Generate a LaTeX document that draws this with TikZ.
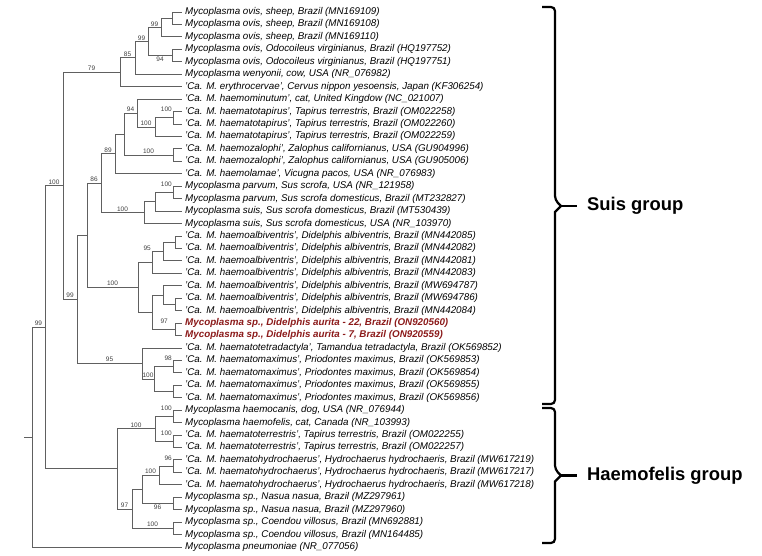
\documentclass[tikz,border=0pt]{standalone}
\usepackage{fontspec}
\setmainfont{Liberation Sans}
\usepackage{tikz}
\usetikzlibrary{decorations.pathreplacing}
\definecolor{treegray}{HTML}{606060}
\definecolor{bootgray}{HTML}{404040}
\definecolor{auritared}{HTML}{8B1A1A}

\begin{document}
\begin{tikzpicture}[x=1pt, y=-1pt,
    branch/.style={draw=treegray, line width=0.8pt},
    leaf/.style={anchor=west, inner sep=0pt, xshift=3pt, font=\fontsize{9.8}{11}\selectfont\itshape},
    newleaf/.style={leaf, font=\fontsize{9.8}{11}\selectfont\itshape\bfseries, text=auritared},
    bs/.style={font=\fontsize{6.5}{7}\selectfont, text=bootgray, inner sep=1pt},
    grp/.style={anchor=west, inner sep=0pt, font=\fontsize{18.4}{20}\selectfont\bfseries},
    bracket/.style={line width=2.2pt, rounded corners=4pt},
    bracetick/.style={line width=2.2pt}
]
    \useasboundingbox (0,0) rectangle (762,556);

    % Leaf tips
    \coordinate (t1) at (182,12.0);
    \coordinate (t2) at (182,24.4);
    \coordinate (t3) at (182,36.9);
    \coordinate (t4) at (182,49.3);
    \coordinate (t5) at (182,61.8);
    \coordinate (t6) at (182,74.2);
    \coordinate (t7) at (182,86.6);
    \coordinate (t8) at (182,99.1);
    \coordinate (t9) at (182,111.5);
    \coordinate (t10) at (182,124.0);
    \coordinate (t11) at (182,136.4);
    \coordinate (t12) at (182,148.8);
    \coordinate (t13) at (182,161.3);
    \coordinate (t14) at (182,173.7);
    \coordinate (t15) at (182,186.2);
    \coordinate (t16) at (182,198.6);
    \coordinate (t17) at (182,211.0);
    \coordinate (t18) at (182,223.5);
    \coordinate (t19) at (182,235.9);
    \coordinate (t20) at (182,248.4);
    \coordinate (t21) at (182,260.8);
    \coordinate (t22) at (182,273.2);
    \coordinate (t23) at (182,285.7);
    \coordinate (t24) at (182,298.1);
    \coordinate (t25) at (182,310.6);
    \coordinate (t26) at (182,323.0);
    \coordinate (t27) at (182,335.4);
    \coordinate (t28) at (182,347.9);
    \coordinate (t29) at (182,360.3);
    \coordinate (t30) at (182,372.8);
    \coordinate (t31) at (182,385.2);
    \coordinate (t32) at (182,397.6);
    \coordinate (t33) at (182,410.1);
    \coordinate (t34) at (182,422.5);
    \coordinate (t35) at (182,435.0);
    \coordinate (t36) at (182,447.4);
    \coordinate (t37) at (182,459.8);
    \coordinate (t38) at (182,472.3);
    \coordinate (t39) at (182,484.7);
    \coordinate (t40) at (182,497.2);
    \coordinate (t41) at (182,509.6);
    \coordinate (t42) at (182,522.0);
    \coordinate (t43) at (182,534.5);
    \coordinate (t44) at (182,546.9);

    % Leaf labels
    \node[leaf] (n1) at (t1) {Mycoplasma ovis, sheep, Brazil (MN169109)};
    \node[leaf] (n2) at (t2) {Mycoplasma ovis, sheep, Brazil (MN169108)};
    \node[leaf] (n3) at (t3) {Mycoplasma ovis, sheep, Brazil (MN169110)};
    \node[leaf] (n4) at (t4) {Mycoplasma ovis, Odocoileus virginianus, Brazil (HQ197752)};
    \node[leaf] (n5) at (t5) {Mycoplasma ovis, Odocoileus virginianus, Brazil (HQ197751)};
    \node[leaf] (n6) at (t6) {Mycoplasma wenyonii, cow, USA (NR\_076982)};
    \node[leaf] (n7) at (t7) {'Ca. M. erythrocervae', Cervus nippon yesoensis, Japan (KF306254)};
    \node[leaf] (n8) at (t8) {'Ca. M. haemominutum', cat, United Kingdow (NC\_021007)};
    \node[leaf] (n9) at (t9) {'Ca. M. haematotapirus', Tapirus terrestris, Brazil (OM022258)};
    \node[leaf] (n10) at (t10) {'Ca. M. haematotapirus', Tapirus terrestris, Brazil (OM022260)};
    \node[leaf] (n11) at (t11) {'Ca. M. haematotapirus', Tapirus terrestris, Brazil (OM022259)};
    \node[leaf] (n12) at (t12) {'Ca. M. haemozalophi', Zalophus californianus, USA (GU904996)};
    \node[leaf] (n13) at (t13) {'Ca. M. haemozalophi', Zalophus californianus, USA (GU905006)};
    \node[leaf] (n14) at (t14) {'Ca. M. haemolamae', Vicugna pacos, USA (NR\_076983)};
    \node[leaf] (n15) at (t15) {Mycoplasma parvum, Sus scrofa, USA (NR\_121958)};
    \node[leaf] (n16) at (t16) {Mycoplasma parvum, Sus scrofa domesticus, Brazil (MT232827)};
    \node[leaf] (n17) at (t17) {Mycoplasma suis, Sus scrofa domesticus, Brazil (MT530439)};
    \node[leaf] (n18) at (t18) {Mycoplasma suis, Sus scrofa domesticus, USA (NR\_103970)};
    \node[leaf] (n19) at (t19) {'Ca. M. haemoalbiventris', Didelphis albiventris, Brazil (MN442085)};
    \node[leaf] (n20) at (t20) {'Ca. M. haemoalbiventris', Didelphis albiventris, Brazil (MN442082)};
    \node[leaf] (n21) at (t21) {'Ca. M. haemoalbiventris', Didelphis albiventris, Brazil (MN442081)};
    \node[leaf] (n22) at (t22) {'Ca. M. haemoalbiventris', Didelphis albiventris, Brazil (MN442083)};
    \node[leaf] (n23) at (t23) {'Ca. M. haemoalbiventris', Didelphis albiventris, Brazil (MW694787)};
    \node[leaf] (n24) at (t24) {'Ca. M. haemoalbiventris', Didelphis albiventris, Brazil (MW694786)};
    \node[leaf] (n25) at (t25) {'Ca. M. haemoalbiventris', Didelphis albiventris, Brazil (MN442084)};
    \node[newleaf] (n26) at (t26) {Mycoplasma sp., Didelphis aurita - 22, Brazil (ON920560)};
    \node[newleaf] (n27) at (t27) {Mycoplasma sp., Didelphis aurita - 7, Brazil (ON920559)};
    \node[leaf] (n28) at (t28) {'Ca. M. haematotetradactyla', Tamandua tetradactyla, Brazil (OK569852)};
    \node[leaf] (n29) at (t29) {'Ca. M. haematomaximus', Priodontes maximus, Brazil (OK569853)};
    \node[leaf] (n30) at (t30) {'Ca. M. haematomaximus', Priodontes maximus, Brazil (OK569854)};
    \node[leaf] (n31) at (t31) {'Ca. M. haematomaximus', Priodontes maximus, Brazil (OK569855)};
    \node[leaf] (n32) at (t32) {'Ca. M. haematomaximus', Priodontes maximus, Brazil (OK569856)};
    \node[leaf] (n33) at (t33) {Mycoplasma haemocanis, dog, USA (NR\_076944)};
    \node[leaf] (n34) at (t34) {Mycoplasma haemofelis, cat, Canada (NR\_103993)};
    \node[leaf] (n35) at (t35) {'Ca. M. haematoterrestris', Tapirus terrestris, Brazil (OM022255)};
    \node[leaf] (n36) at (t36) {'Ca. M. haematoterrestris', Tapirus terrestris, Brazil (OM022257)};
    \node[leaf] (n37) at (t37) {'Ca. M. haematohydrochaerus', Hydrochaerus hydrochaeris, Brazil (MW617219)};
    \node[leaf] (n38) at (t38) {'Ca. M. haematohydrochaerus', Hydrochaerus hydrochaeris, Brazil (MW617217)};
    \node[leaf] (n39) at (t39) {'Ca. M. haematohydrochaerus', Hydrochaerus hydrochaeris, Brazil (MW617218)};
    \node[leaf] (n40) at (t40) {Mycoplasma sp., Nasua nasua, Brazil (MZ297961)};
    \node[leaf] (n41) at (t41) {Mycoplasma sp., Nasua nasua, Brazil (MZ297960)};
    \node[leaf] (n42) at (t42) {Mycoplasma sp., Coendou villosus, Brazil (MN692881)};
    \node[leaf] (n43) at (t43) {Mycoplasma sp., Coendou villosus, Brazil (MN164485)};
    \node[leaf] (n44) at (t44) {Mycoplasma pneumoniae (NR\_077056)};

    % Internal nodes
    \coordinate (ovA) at (172,18.2);
    \coordinate (ovB) at (161,27.6);
    \coordinate (ovD) at (172,55.5);
    \coordinate (ovC) at (148,41.6);
    \coordinate (ovE) at (135,57.9);
    \coordinate (ovF) at (120,72.2);
    \coordinate (tapJ) at (173,117.8);
    \coordinate (tapI) at (155,127.1);
    \coordinate (minH) at (137,113.1);
    \coordinate (zalL) at (173,155.0);
    \coordinate (minK) at (124,134.1);
    \coordinate (lamM) at (115,153.9);
    \coordinate (parP) at (173,192.4);
    \coordinate (parQ) at (155,201.7);
    \coordinate (suiO) at (144,212.6);
    \coordinate (suiN) at (101,183.3);
    \coordinate (albX1) at (175,242.1);
    \coordinate (albX2) at (163,251.5);
    \coordinate (albX) at (152,262.3);
    \coordinate (albY1) at (175,304.3);
    \coordinate (albY2) at (163,295.0);
    \coordinate (auritaY3) at (175,329.2);
    \coordinate (albY) at (152,312.1);
    \coordinate (albW) at (138,287.2);
    \coordinate (suiU) at (87,235.2);
    \coordinate (maxZ1) at (173,366.5);
    \coordinate (maxZ2) at (173,391.4);
    \coordinate (maxZ) at (154,379.0);
    \coordinate (tetV) at (142,363.4);
    \coordinate (suiT) at (77,299.3);
    \coordinate (suiS) at (63,185.8);
    \coordinate (canA1) at (173,416.3);
    \coordinate (terA2) at (173,441.2);
    \coordinate (canA) at (155,428.7);
    \coordinate (hydC1) at (173,466.1);
    \coordinate (hydC) at (159,475.4);
    \coordinate (nasD) at (173,503.4);
    \coordinate (hydCD) at (142,489.4);
    \coordinate (coeE) at (173,528.3);
    \coordinate (felB) at (132,508.9);
    \coordinate (felH) at (117,468.8);
    \coordinate (hemQ) at (45,327.3);
    \coordinate (root) at (32,437.1);
    \coordinate (rootstub) at (24,437.1);

    % Ovis / wenyonii clade
    \draw[branch] (ovA) |- (t1);
    \draw[branch] (ovA) |- (t2);
    \draw[branch] (ovB) |- (ovA);
    \draw[branch] (ovB) |- (t3);
    \draw[branch] (ovD) |- (t4);
    \draw[branch] (ovD) |- (t5);
    \draw[branch] (ovC) |- node[bs, above, pos=0.75] {99} (ovB);
    \draw[branch] (ovC) |- node[bs, below, pos=0.75] {94} (ovD);
    \draw[branch] (ovE) |- node[bs, above, pos=0.75] {99} (ovC);
    \draw[branch] (ovE) |- (t6);
    \draw[branch] (ovF) |- node[bs, above, pos=0.75] {85} (ovE);
    \draw[branch] (ovF) |- (t7);
    \draw[branch] (suiS) |- node[bs, above, pos=0.75] {79} (ovF);

    % Haemominutum / haemolamae clade
    \draw[branch] (tapJ) |- (t9);
    \draw[branch] (tapJ) |- (t10);
    \node[bs, anchor=east, yshift=2pt] (bsJ) at (tapJ |- t9) {100};
    \draw[branch] (tapI) |- (tapJ);
    \draw[branch] (tapI) |- (t11);
    \draw[branch] (minH) |- (t8);
    \draw[branch] (minH) |- node[bs, above, pos=0.75] {100} (tapI);
    \draw[branch] (zalL) |- (t12);
    \draw[branch] (zalL) |- (t13);
    \draw[branch] (minK) |- node[bs, above, pos=0.75] {94} (minH);
    \draw[branch] (minK) |- node[bs, above, pos=0.75] {100} (zalL);
    \draw[branch] (lamM) |- (minK);
    \draw[branch] (lamM) |- (t14);
    \draw[branch] (suiN) |- node[bs, above, pos=0.75] {89} (lamM);

    % Suis / parvum clade
    \draw[branch] (parP) |- (t15);
    \draw[branch] (parP) |- (t16);
    \node[bs, anchor=east, yshift=2pt] (bsP) at (parP |- t15) {100};
    \draw[branch] (parQ) |- (parP);
    \draw[branch] (parQ) |- (t17);
    \draw[branch] (suiO) |- (parQ);
    \draw[branch] (suiO) |- (t18);
    \draw[branch] (suiN) |- node[bs, above, pos=0.75] {100} (suiO);
    \draw[branch] (suiU) |- node[bs, above, pos=0.75] {86} (suiN);

    % Haemoalbiventris / Didelphis aurita clade
    \draw[branch] (albX1) |- (t19);
    \draw[branch] (albX1) |- (t20);
    \draw[branch] (albX2) |- (albX1);
    \draw[branch] (albX2) |- (t21);
    \draw[branch] (albX) |- (albX2);
    \draw[branch] (albX) |- (t22);
    \node[bs, anchor=east, yshift=3pt] (bsX) at (albX |- albX2) {95};
    \draw[branch] (albY1) |- (t24);
    \draw[branch] (albY1) |- (t25);
    \draw[branch] (albY2) |- (t23);
    \draw[branch] (albY2) |- (albY1);
    \draw[branch] (auritaY3) |- (t26);
    \draw[branch] (auritaY3) |- (t27);
    \node[bs, anchor=east, xshift=-6pt, yshift=2pt] (bsY3) at (auritaY3 |- t26) {97};
    \draw[branch] (albY) |- (albY2);
    \draw[branch] (albY) |- (auritaY3);
    \draw[branch] (albW) |- (albX);
    \draw[branch] (albW) |- (albY);
    \draw[branch] (suiU) |- node[bs, above, pos=0.75] {100} (albW);

    % Tetradactyla / maximus clade
    \draw[branch] (maxZ1) |- (t29);
    \draw[branch] (maxZ1) |- (t30);
    \node[bs, anchor=east, yshift=2pt] (bsZ1) at (maxZ1 |- t29) {98};
    \draw[branch] (maxZ2) |- (t31);
    \draw[branch] (maxZ2) |- (t32);
    \draw[branch] (maxZ) |- (maxZ1);
    \draw[branch] (maxZ) |- (maxZ2);
    \draw[branch] (tetV) |- (t28);
    \draw[branch] (tetV) |- node[bs, above, pos=0.75] {100} (maxZ);
    \draw[branch] (suiT) |- (suiU);
    \draw[branch] (suiT) |- node[bs, above, pos=0.75] {95} (tetV);
    \draw[branch] (suiS) |- node[bs, above, pos=0.75] {99} (suiT);

    % Haemofelis clade
    \draw[branch] (canA1) |- (t33);
    \draw[branch] (canA1) |- (t34);
    \node[bs, anchor=east, yshift=2pt] (bsA1) at (canA1 |- t33) {100};
    \draw[branch] (terA2) |- (t35);
    \draw[branch] (terA2) |- (t36);
    \node[bs, anchor=east, yshift=2pt] (bsA2) at (terA2 |- t35) {100};
    \draw[branch] (canA) |- (canA1);
    \draw[branch] (canA) |- (terA2);
    \draw[branch] (hydC1) |- (t37);
    \draw[branch] (hydC1) |- (t38);
    \node[bs, anchor=east, yshift=2pt] (bsC1) at (hydC1 |- t37) {96};
    \draw[branch] (hydC) |- (hydC1);
    \draw[branch] (hydC) |- (t39);
    \draw[branch] (nasD) |- (t40);
    \draw[branch] (nasD) |- (t41);
    \draw[branch] (hydCD) |- node[bs, above, pos=0.75] {100} (hydC);
    \draw[branch] (hydCD) |- node[bs, below, pos=0.75] {96} (nasD);
    \draw[branch] (coeE) |- (t42);
    \draw[branch] (coeE) |- (t43);
    \draw[branch] (felB) |- (hydCD);
    \draw[branch] (felB) |- node[bs, above, pos=0.75] {100} (coeE);
    \draw[branch] (felH) |- node[bs, above, pos=0.75] {100} (canA);
    \draw[branch] (felH) |- node[bs, above, pos=0.75] {97} (felB);

    % Root
    \draw[branch] (hemQ) |- node[bs, above, pos=0.75] {100} (suiS);
    \draw[branch] (hemQ) |- (felH);
    \draw[branch] (root) |- node[bs, above, pos=0.75] {99} (hemQ);
    \draw[branch] (root) |- (t44);
    \draw[branch] (rootstub) -- (root);

    % Group brackets
    \node[grp] (suis) at (587,206) {Suis group};
    \node[grp] (felis) at (587,475.5) {Haemofelis group};
    \coordinate (suistip) at (561,206);
    \coordinate (felistip) at (561,475.5);
    \draw[bracket] (542,7) -- (555,7) -- (555,200) [sharp corners] -- (suistip)
        -- (555,212) [rounded corners=4pt] -- (555,404) -- (542,404);
    \draw[bracetick] (suistip) -- ++(16,0);
    \draw[bracket] (542,408) -- (555,408) -- (555,469.5) [sharp corners] -- (felistip)
        -- (555,481.5) [rounded corners=4pt] -- (555,543) -- (542,543);
    \draw[bracetick] (felistip) -- ++(16,0);

\end{tikzpicture}
\end{document}
